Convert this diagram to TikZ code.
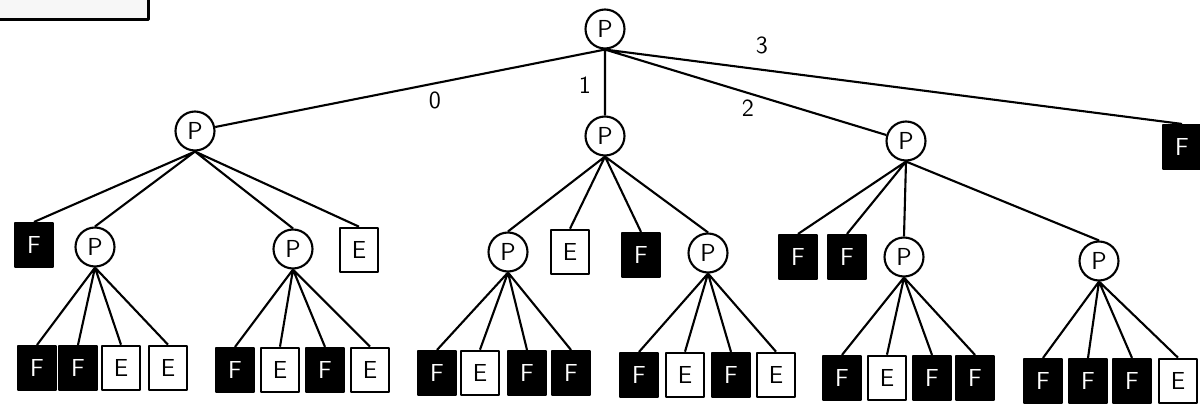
\documentclass[tikz,border=0pt]{standalone}
\begin{document}
\begin{tikzpicture}[x=0.02cm, y=-0.02cm, line width=1.2pt, line join=round,
  font=\sffamily\fontsize{14}{16}\selectfont,
  pnode/.style={circle, draw, fill=white, minimum size=0.78cm, inner sep=0pt},
  fbox/.style={rectangle, draw, fill=black, text=white, minimum width=0.76cm, minimum height=0.88cm, inner sep=0pt},
  ebox/.style={rectangle, draw, line width=1.5pt, fill=white, minimum width=0.76cm, minimum height=0.88cm, inner sep=0pt},
  digit/.style={font=\sffamily\fontsize{14}{16}\selectfont}]
\useasboundingbox (0,0) rectangle (1200,408);
\draw[line width=0.06cm, fill=gray!6] (-10,-10) rectangle (148,20);
\node[pnode] (root) at (605,29) {P};
\node[pnode] (a) at (195,131) {P};
\node[pnode] (b) at (605,136) {P};
\node[pnode] (c) at (906,141) {P};
\node[fbox] (d) at (1182,147) {F};
\node[digit] (l0) at (435,100) {0};
\node[digit] (l1) at (585,85) {1};
\node[digit] (l2) at (748,108) {2};
\node[digit] (l3) at (762,45) {3};
\draw (root.south)--(a) (root.south)--(b) (root.south)--(c) (root.south)--(d.north);
\node[fbox] (a1) at (34,245) {F};
\node[pnode] (a2) at (95,247) {P};
\node[pnode] (a3) at (293,249) {P};
\node[ebox] (a4) at (359,250) {E};
\node[pnode] (b1) at (508,252) {P};
\node[ebox] (b2) at (570,252) {E};
\node[fbox] (b3) at (641,255) {F};
\node[pnode] (b4) at (708,253) {P};
\node[fbox] (c1) at (798,257) {F};
\node[fbox] (c2) at (847,257) {F};
\node[pnode] (c3) at (904,257) {P};
\node[pnode] (c4) at (1099,261) {P};
\draw (a.south)--(a1.north) (a.south)--(a2.north) (a.south)--(a3.north) (a.south)--(a4.north);
\draw (b.south)--(b1.north) (b.south)--(b2.north) (b.south)--(b3.north) (b.south)--(b4.north);
\draw (c.south)--(c1.north) (c.south)--(c2.north) (c.south)--(c3.north) (c.south)--(c4.north);
\node[fbox] (a21) at (37,368) {F};
\node[fbox] (a22) at (78,368) {F};
\node[ebox] (a23) at (121,368) {E};
\node[ebox] (a24) at (168,368) {E};
\node[fbox] (a31) at (235,370) {F};
\node[ebox] (a32) at (280,370) {E};
\node[fbox] (a33) at (325,370) {F};
\node[ebox] (a34) at (370,370) {E};
\node[fbox] (b11) at (437,373) {F};
\node[ebox] (b12) at (480,373) {E};
\node[fbox] (b13) at (527,373) {F};
\node[fbox] (b14) at (571,373) {F};
\node[fbox] (b41) at (639,375) {F};
\node[ebox] (b42) at (685,375) {E};
\node[fbox] (b43) at (731,375) {F};
\node[ebox] (b44) at (776,375) {E};
\node[fbox] (c31) at (842,378) {F};
\node[ebox] (c32) at (887,378) {E};
\node[fbox] (c33) at (932,378) {F};
\node[fbox] (c34) at (975,378) {F};
\node[fbox] (c41) at (1043,381) {F};
\node[fbox] (c42) at (1088,381) {F};
\node[fbox] (c43) at (1132,381) {F};
\node[ebox] (c44) at (1178,381) {E};
\draw (a2.south)--(a21.north) (a2.south)--(a22.north) (a2.south)--(a23.north) (a2.south)--(a24.north);
\draw (a3.south)--(a31.north) (a3.south)--(a32.north) (a3.south)--(a33.north) (a3.south)--(a34.north);
\draw (b1.south)--(b11.north) (b1.south)--(b12.north) (b1.south)--(b13.north) (b1.south)--(b14.north);
\draw (b4.south)--(b41.north) (b4.south)--(b42.north) (b4.south)--(b43.north) (b4.south)--(b44.north);
\draw (c3.south)--(c31.north) (c3.south)--(c32.north) (c3.south)--(c33.north) (c3.south)--(c34.north);
\draw (c4.south)--(c41.north) (c4.south)--(c42.north) (c4.south)--(c43.north) (c4.south)--(c44.north);
\end{tikzpicture}
\end{document}
